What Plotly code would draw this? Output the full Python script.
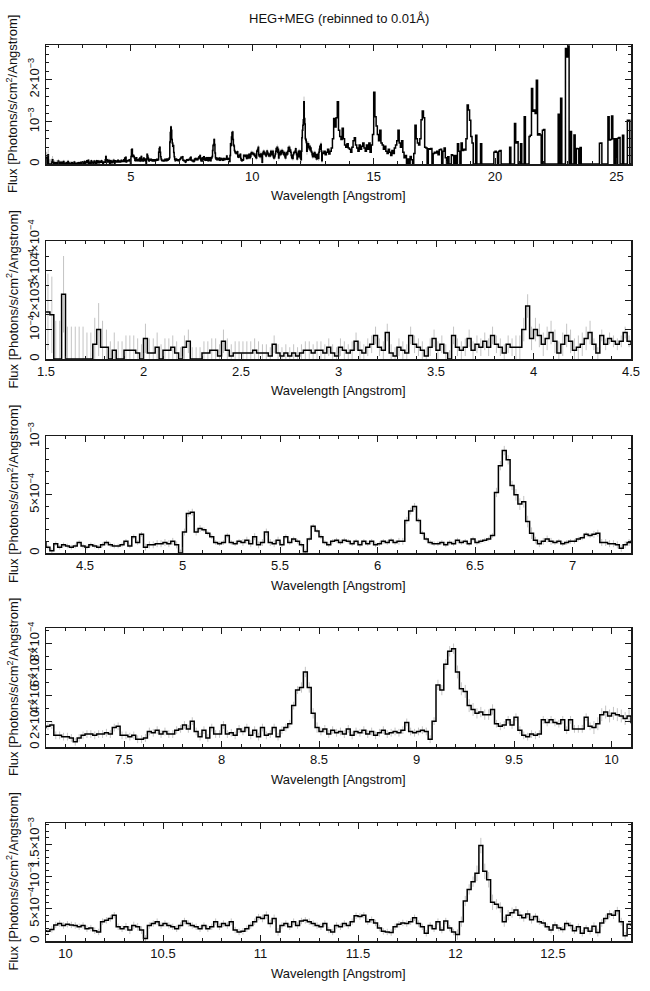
import numpy as np
import plotly.graph_objects as go

# ---------------- data (flux in units of 1e-5 photons/s/cm^2/Angstrom) ----------------
# segment A: 1.50 - 4.30 A, 0.02 A bins
flux_a = [
    16, 15, 0, 0, 22, 0, 0, 0, 0, 0,
    0, 0, 5, 10, 4, 4, 0, 3, 0, 0,
    3, 3, 3, 2, 0, 7, 2, 2, 4, 0,
    3, 3, 4, 2, 0, 4, 6, 0, 0, 0,
    2, 2, 3, 3, 1, 6, 3, 1, 2, 2,
    2, 2, 2, 3, 2, 2, 2, 1, 5, 2,
    1, 2, 1, 2, 1, 2, 3, 3, 2, 3,
    3, 2, 4, 2, 1, 4, 3, 2, 3, 6,
    3, 2, 4, 5, 8, 4, 3, 9, 2, 1,
    4, 3, 2, 8, 5, 4, 3, 1, 4, 7,
    3, 5, 2, 0, 8, 4, 3, 4, 7, 3,
    5, 4, 6, 4, 8, 5, 4, 2, 5, 4,
    4, 4, 10, 18, 7, 10, 8, 5, 7, 9,
    6, 2, 5, 8, 6, 3, 4, 5, 7, 9,
]
# segment B: 4.30 - 7.10 A, 0.02 A bins
flux_b = [
    5, 2, 8, 5, 7, 6, 5, 6, 9, 6,
    5, 7, 6, 5, 7, 9, 7, 6, 6, 7,
    10, 6, 14, 9, 16, 5, 7, 7, 8, 8,
    9, 8, 10, 7, 0, 18, 34, 35, 18, 21,
    20, 17, 14, 9, 8, 9, 15, 9, 8, 10,
    9, 11, 8, 14, 7, 9, 18, 9, 8, 11,
    7, 14, 9, 12, 10, 7, 1, 12, 23, 19,
    14, 9, 7, 10, 11, 9, 11, 10, 8, 10,
    7, 10, 8, 10, 7, 8, 10, 9, 11, 9,
    10, 10, 28, 36, 40, 28, 17, 12, 9, 8,
    8, 9, 7, 9, 8, 11, 9, 10, 8, 12,
    9, 10, 11, 12, 15, 52, 75, 88, 80, 58,
    50, 42, 44, 27, 17, 11, 8, 10, 12, 10,
    9, 10, 8, 9, 10, 10, 12, 13, 16, 15,
]
# segment C: 7.10 - 9.90 A, 0.02 A bins
flux_c = [
    16, 17, 9, 9, 8, 8, 7, 4, 7, 9,
    10, 10, 9, 10, 10, 11, 10, 15, 16, 9,
    9, 8, 9, 6, 6, 7, 12, 11, 13, 10,
    12, 10, 10, 13, 14, 17, 14, 20, 12, 8,
    13, 7, 15, 10, 10, 17, 10, 11, 9, 14,
    12, 15, 9, 13, 8, 15, 9, 10, 15, 8,
    13, 15, 18, 32, 44, 46, 58, 46, 26, 15,
    12, 14, 10, 13, 11, 12, 10, 14, 9, 12,
    11, 13, 10, 12, 9, 11, 13, 10, 11, 12,
    11, 13, 19, 12, 11, 12, 13, 12, 6, 20,
    48, 44, 64, 74, 76, 58, 45, 43, 32, 29,
    26, 27, 25, 25, 29, 18, 16, 17, 21, 17,
    23, 13, 9, 8, 10, 9, 10, 21, 19, 21,
    19, 18, 21, 13, 21, 14, 14, 14, 23, 16,
]
# segment D: 9.90 - 12.90 A, 0.02 A bins
flux_d = [
    15, 18, 25, 27, 24, 26, 25, 24, 22, 24,
    19, 20, 16, 14, 30, 32, 35, 40, 22, 19,
    22, 17, 24, 22, 17, 4, 24, 27, 30, 24,
    27, 24, 22, 19, 24, 31, 27, 24, 22, 19,
    24, 19, 22, 30, 22, 27, 24, 30, 17, 14,
    15, 19, 24, 30, 37, 35, 40, 27, 35, 14,
    24, 27, 22, 30, 24, 31, 32, 30, 27, 24,
    22, 27, 17, 14, 24, 22, 27, 24, 30, 39,
    38, 40, 30, 33, 28, 20, 15, 14, 13, 22,
    26, 28, 27, 30, 36, 27, 22, 12, 24, 19,
    30, 17, 31, 20, 14, 10, 30, 62, 80, 92,
    105, 148, 108, 95, 60, 57, 52, 30, 40, 44,
    48, 40, 36, 42, 33, 38, 30, 28, 22, 17,
    25, 20, 18, 27, 24, 16, 22, 12, 20, 15,
    23, 13, 28, 35, 42, 40, 47, 30, 8, 26,
]
# segment E: 12.90 - 25.60 A, 0.05 A bins
flux_e = (
    [25, 30]
    + [22, 28, 35, 24, 30, 38, 60, 108, 88, 110, 148, 80, 65, 58, 85, 60, 45, 40, 48, 38]
    + [35, 28, 40, 55, 62, 45, 38, 30, 45, 35, 42, 50, 38, 30, 45, 35, 50, 28, 45, 70]
    + [170, 112, 90, 70, 55, 80, 50, 45, 35, 42, 30, 25, 35, 28, 20, 32, 25, 38, 45, 55]
    + [80, 50, 40, 55, 28, 15, 20, 0, 12, 0, 18, 10, 0, 25, 92, 60, 50, 45, 60, 105]
    + [126, 110, 40, 38, 0, 36, 35, 37, 0, 25, 28, 26, 30, 22, 34, 35, 0, 30, 38, 15]
    + [0, 17, 0, 0, 22, 20, 0, 20, 0, 48, 30, 0, 50, 32, 35, 33, 60, 140, 128, 104]
    + [65, 50, 0, 0, 68, 0, 0, 0, 48, 0, 0, 0, 0, 0, 0, 0, 0, 0, 0, 28]
    + [30, 28, 0, 30, 32, 0, 0, 0, 0, 0, 0, 0, 40, 0, 0, 0, 96, 50, 53, 0]
    + [0, 48, 0, 0, 112, 0, 0, 0, 65, 68, 179, 125, 128, 120, 199, 69, 72, 69, 0, 80]
    + [82, 0, 0, 0, 0, 0, 0, 0, 0, 0, 0, 0, 118, 0, 156, 0, 0, 0, 274, 254]
    + [280, 0, 77, 0, 0, 69, 0, 37, 36, 0, 39, 0, 0, 0, 0, 0, 0, 0, 0, 0]
    + [0, 0, 0, 0, 0, 0, 49, 50, 0, 0, 0, 0, 0, 112, 57, 58, 114, 60, 0, 60]
    + [0, 61, 63, 0, 0, 68, 0, 0, 0, 104, 104, 0]
)
# 1-sigma errors, one value per 0.1 A (same units)
err_a = [13, 11, 9, 6, 5, 5, 4, 4, 4, 4, 4, 3, 3, 3, 3, 3, 3, 3, 3, 3, 3, 3, 3, 3, 4, 4, 4, 4]
err_b = [2, 2, 2, 2, 2, 3, 3, 3, 2, 2, 3, 3, 2, 2, 2, 2, 2, 2, 3, 2, 2, 2, 2, 4, 5, 3, 2, 2]
err_c = [3, 3, 3, 3, 3, 3, 3, 3, 3, 3, 3, 3, 3, 4, 3, 3, 3, 3, 3, 3, 4, 5, 4, 3, 3, 3, 3, 3]
err_d = [5, 5, 5, 5, 6, 5, 5, 5, 5, 5, 5, 6, 5, 5, 5, 5, 5, 5, 5, 5, 5, 8, 12, 8, 6, 5, 5, 5, 6, 6]

segments = [
    (1.50, 0.02, flux_a, err_a),
    (4.30, 0.02, flux_b, err_b),
    (7.10, 0.02, flux_c, err_c),
    (9.90, 0.02, flux_d, err_d),
    (12.90, 0.05, flux_e, None),
]

SCALE = 1e-5
step_x, step_y = [], []
ex, ey = [], []
for start, step, vals, errs in segments:
    v = np.array(vals, float) * SCALE
    left = start + step * np.arange(len(v))
    step_x.extend(left.tolist())
    step_y.extend(v.tolist())
    if errs is not None:
        e = np.repeat(np.array(errs, float), int(round(0.1 / step)))[: len(v)] * SCALE
        if len(e) < len(v):
            e = np.concatenate([e, np.full(len(v) - len(e), e[-1])])
        centres = left + step / 2
        for c, vv, ee in zip(centres, v, e):
            ex += [c, c, None]
            ey += [max(vv - ee, 0), vv + ee, None]
last = segments[-1]
step_x.append(last[0] + last[1] * len(last[2]))
step_y.append(step_y[-1])

# ---------------- panels ----------------
def sup(mant, exp):
    e = "<sup>\u2212%d</sup>" % exp
    return ("10" + e) if mant == "" else (mant + "\u00d710" + e)

panels = [
    dict(xr=[1.5, 25.6], xt=[5, 10, 15, 20, 25], xm=1,
         yr=[0, 2.824e-3], yt=[0, 1e-3, 2e-3], ytt=["0", sup("", 3), sup("2", 3)], ym=2e-4),
    dict(xr=[1.5, 4.5], xt=[1.5, 2, 2.5, 3, 3.5, 4, 4.5], xm=0.1,
         yr=[0, 4.01e-4], yt=[0, 1e-4, 2e-4, 3e-4, 4e-4],
         ytt=["0", sup("", 4), sup("2", 4), sup("3", 4), sup("4", 4)], ym=5e-5),
    dict(xr=[4.3, 7.3], xt=[4.5, 5, 5.5, 6, 6.5, 7], xm=0.1,
         yr=[0, 1.005e-3], yt=[0, 5e-4, 1e-3], ytt=["0", sup("5", 4), sup("", 3)], ym=1e-4),
    dict(xr=[7.1, 10.1], xt=[7.5, 8, 8.5, 9, 9.5, 10], xm=0.1,
         yr=[0, 9.2e-4], yt=[0, 2e-4, 4e-4, 6e-4, 8e-4],
         ytt=["0", sup("2", 4), sup("4", 4), sup("6", 4), sup("8", 4)], ym=1e-4),
    dict(xr=[9.9, 12.9], xt=[10, 10.5, 11, 11.5, 12, 12.5], xm=0.1,
         yr=[0, 1.83e-3], yt=[0, 5e-4, 1e-3, 1.5e-3],
         ytt=["0", sup("5", 4), sup("", 3), sup("1.5", 3)], ym=1e-4),
]

W, H = 650, 991
XL, XR = 46, 631
tops = [45, 241, 436, 628, 823]
bottoms = [164, 359, 553, 747, 941]
FONT = "Liberation Sans, Arial, Helvetica, sans-serif"
AX = "#1a1a1a"

fig = go.Figure()
layout = dict(
    template="none",
    width=W, height=H, margin=dict(l=0, r=0, t=0, b=0, pad=0, autoexpand=False),
    paper_bgcolor="white", plot_bgcolor="white", showlegend=False,
    font=dict(family=FONT, size=13, color="#111"),
)
annotations = [dict(text="HEG+MEG (rebinned to 0.01\u00c5)", x=(XL + XR) / 2 / W, y=1 - 18 / H,
                    xref="paper", yref="paper", showarrow=False, xanchor="center", yanchor="middle",
                    font=dict(size=13))]

def fmt(v):
    return "%g" % v

for i, p in enumerate(panels):
    n = "" if i == 0 else str(i + 1)
    fig.add_trace(go.Scatter(x=ex, y=ey, mode="lines", line=dict(color="#c4c4c4", width=1),
                             xaxis="x" + n, yaxis="y" + n, hoverinfo="skip"))
    fig.add_trace(go.Scatter(x=step_x, y=step_y, mode="lines", line=dict(color="black", width=1.5, shape="hv"),
                             xaxis="x" + n, yaxis="y" + n))
    layout["xaxis" + n] = dict(
        domain=[XL / W, XR / W], range=p["xr"], anchor="y" + n, automargin=False,
        showline=True, linecolor=AX, linewidth=1.5, mirror="allticks",
        ticks="inside", ticklen=6, tickwidth=1, tickcolor=AX,
        tickmode="array", tickvals=p["xt"], ticktext=[fmt(v) for v in p["xt"]],
        minor=dict(ticks="inside", ticklen=3, tickwidth=1, tickcolor=AX, tickmode="linear", tick0=0, dtick=p["xm"]),
        showgrid=False, zeroline=False, tickfont=dict(size=13),
    )
    layout["yaxis" + n] = dict(
        domain=[1 - bottoms[i] / H, 1 - tops[i] / H], range=p["yr"], anchor="x" + n, automargin=False,
        showline=True, linecolor=AX, linewidth=1.5, mirror="allticks",
        ticks="inside", ticklen=6, tickwidth=1, tickcolor=AX,
        tickmode="array", tickvals=p["yt"], ticktext=p["ytt"], tickangle=-90,
        minor=dict(ticks="inside", ticklen=3, tickwidth=1, tickcolor=AX, tickmode="linear", tick0=0, dtick=p["ym"]),
        showgrid=False, zeroline=False, tickfont=dict(size=13),
    )
    annotations.append(dict(text="Wavelength [Angstrom]", x=(XL + XR) / 2 / W, y=1 - (bottoms[i] + 32) / H,
                            xref="paper", yref="paper", showarrow=False, xanchor="center", yanchor="middle",
                            font=dict(size=13)))
    annotations.append(dict(text="Flux [Photons/s/cm<sup>2</sup>/Angstrom]", x=12.5 / W,
                            y=1 - (tops[i] + bottoms[i]) / 2 / H, textangle=-90,
                            xref="paper", yref="paper", showarrow=False, xanchor="center", yanchor="middle",
                            font=dict(size=13)))

layout["annotations"] = annotations
fig.update_layout(**layout)
fig.write_html("out.html", config={"displayModeBar": False, "staticPlot": True},
               post_script="document.body.style.margin='0';")
